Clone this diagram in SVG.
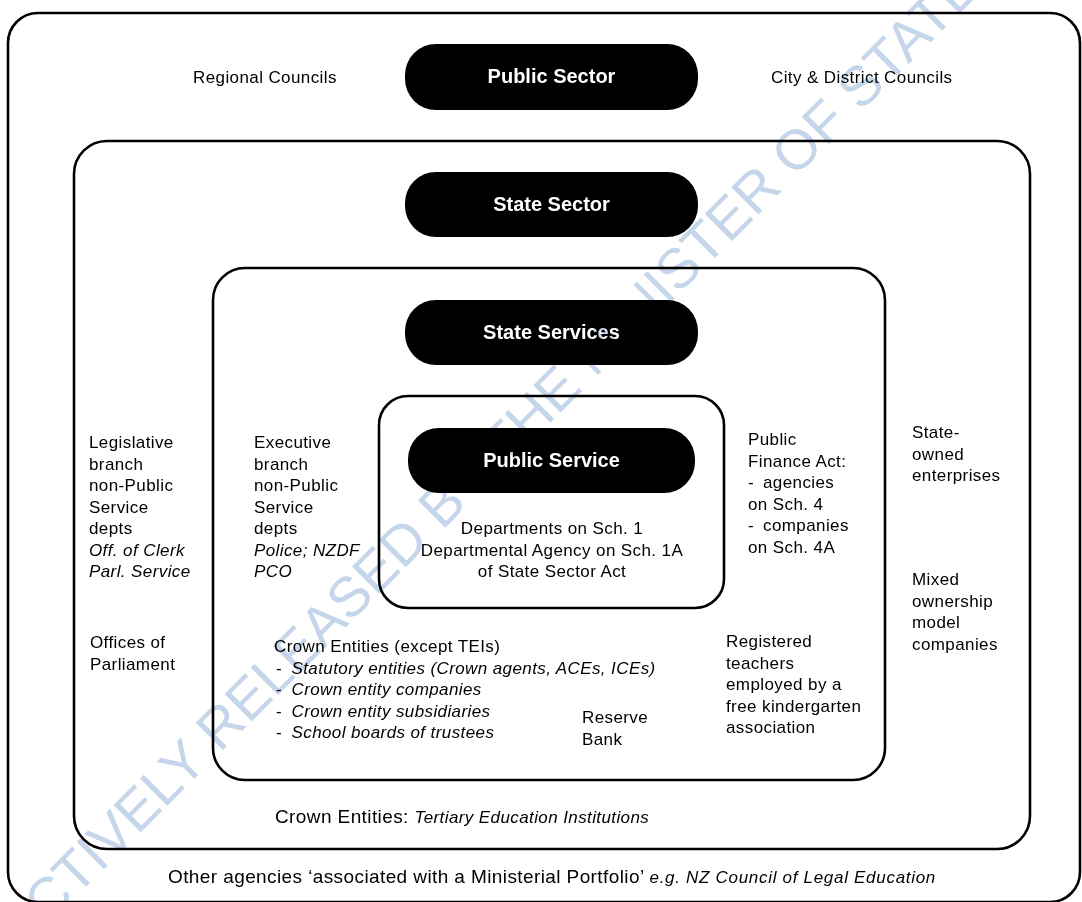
<svg xmlns="http://www.w3.org/2000/svg" width="1082" height="902" viewBox="0 0 1082 902">
<style>
.box{fill:none;stroke:#000;stroke-width:2.6}
.pill{fill:#000}
.pt{font-family:"Liberation Sans",Arial,sans-serif;font-weight:bold;font-size:20px;fill:#fff;text-anchor:middle}
.t{font-family:"Liberation Sans",Arial,sans-serif;font-size:17px;letter-spacing:0.4px;fill:#000}
.i{font-style:italic}
.big{font-size:19px}
.wm{font-family:"Liberation Sans",Arial,sans-serif;font-size:56px;fill:#c5d5ea;mix-blend-mode:multiply;text-anchor:middle}
</style>
<rect width="1082" height="902" fill="#fff"/>
<g id="public-sector-box">
<rect class="box" x="8" y="13" width="1072" height="889" rx="30"/>
<text class="t" x="193" y="83">Regional Councils</text>
<text class="t" x="771" y="83">City &amp; District Councils</text>
<text class="t big" x="168" y="883">Other agencies ‘associated with a Ministerial Portfolio’ <tspan class="i" font-size="17px" letter-spacing="0.7px">e.g. NZ Council of Legal Education</tspan></text>
</g>
<g id="public-sector-pill">
<rect class="pill" x="405" y="44" width="293" height="66" rx="31"/>
<text class="pt" x="551.5" y="83">Public Sector</text>
</g>
<g id="state-sector-box">
<rect class="box" x="74" y="141" width="956" height="708" rx="33"/>
<text class="t"><tspan x="89" y="448">Legislative</tspan><tspan x="89" y="469.5">branch</tspan><tspan x="89" y="491">non-Public</tspan><tspan x="89" y="512.5">Service</tspan><tspan x="89" y="534">depts</tspan><tspan class="i" x="89" y="555.5">Off. of Clerk</tspan><tspan class="i" x="89" y="577">Parl. Service</tspan></text>
<text class="t"><tspan x="90" y="648">Offices of</tspan><tspan x="90" y="669.5">Parliament</tspan></text>
<text class="t"><tspan x="912" y="438">State-</tspan><tspan x="912" y="459.5">owned</tspan><tspan x="912" y="481">enterprises</tspan></text>
<text class="t"><tspan x="912" y="585">Mixed</tspan><tspan x="912" y="606.5">ownership</tspan><tspan x="912" y="628">model</tspan><tspan x="912" y="649.5">companies</tspan></text>
<text class="t big" x="275" y="823">Crown Entities: <tspan class="i" font-size="17px">Tertiary Education Institutions</tspan></text>
</g>
<g id="state-sector-pill">
<rect class="pill" x="405" y="172" width="293" height="65" rx="31"/>
<text class="pt" x="551.5" y="211">State Sector</text>
</g>
<g id="state-services-box">
<rect class="box" x="213" y="268" width="672" height="512" rx="32"/>
<text class="t"><tspan x="254" y="448">Executive</tspan><tspan x="254" y="469.5">branch</tspan><tspan x="254" y="491">non-Public</tspan><tspan x="254" y="512.5">Service</tspan><tspan x="254" y="534">depts</tspan><tspan class="i" x="254" y="555.5">Police; NZDF</tspan><tspan class="i" x="254" y="577">PCO</tspan></text>
<text class="t"><tspan x="748" y="445">Public</tspan><tspan x="748" y="466.5">Finance Act:</tspan><tspan x="748" y="488">-</tspan><tspan x="763" y="488">agencies</tspan><tspan x="748" y="509.5">on Sch. 4</tspan><tspan x="748" y="531">-</tspan><tspan x="763" y="531">companies</tspan><tspan x="748" y="552.5">on Sch. 4A</tspan></text>
<text class="t"><tspan x="274" y="652">Crown Entities (except TEIs)</tspan><tspan x="276" y="673.5">-</tspan><tspan class="i" x="291.5" y="673.5">Statutory entities (Crown agents, ACEs, ICEs)</tspan><tspan x="276" y="695">-</tspan><tspan class="i" x="291.5" y="695">Crown entity companies</tspan><tspan x="276" y="716.5">-</tspan><tspan class="i" x="291.5" y="716.5">Crown entity subsidiaries</tspan><tspan x="276" y="738">-</tspan><tspan class="i" x="291.5" y="738">School boards of trustees</tspan></text>
<text class="t"><tspan x="582" y="723">Reserve</tspan><tspan x="582" y="744.5">Bank</tspan></text>
<text class="t"><tspan x="726" y="647">Registered</tspan><tspan x="726" y="668.5">teachers</tspan><tspan x="726" y="690">employed by a</tspan><tspan x="726" y="711.5">free kindergarten</tspan><tspan x="726" y="733">association</tspan></text>
</g>
<g id="state-services-pill">
<rect class="pill" x="405" y="300" width="293" height="65" rx="31"/>
<text class="pt" x="551.5" y="339">State Services</text>
</g>
<g id="public-service-box">
<rect class="box" x="379" y="396" width="345" height="212" rx="29"/>
<text class="t" text-anchor="middle"><tspan x="552" y="534">Departments on Sch. 1</tspan><tspan x="552" y="555.5">Departmental Agency on Sch. 1A</tspan><tspan x="552" y="577">of State Sector Act</tspan></text>
</g>
<g id="public-service-pill">
<rect class="pill" x="408" y="428" width="287" height="65" rx="31"/>
<text class="pt" x="551.5" y="467">Public Service</text>
</g>
<g id="connectors"/>
<g id="watermark">
<text class="wm" transform="translate(515,458) rotate(-45)">CTIVELY RELEASED BY THE MINISTER OF STATE</text>
</g>
</svg>
